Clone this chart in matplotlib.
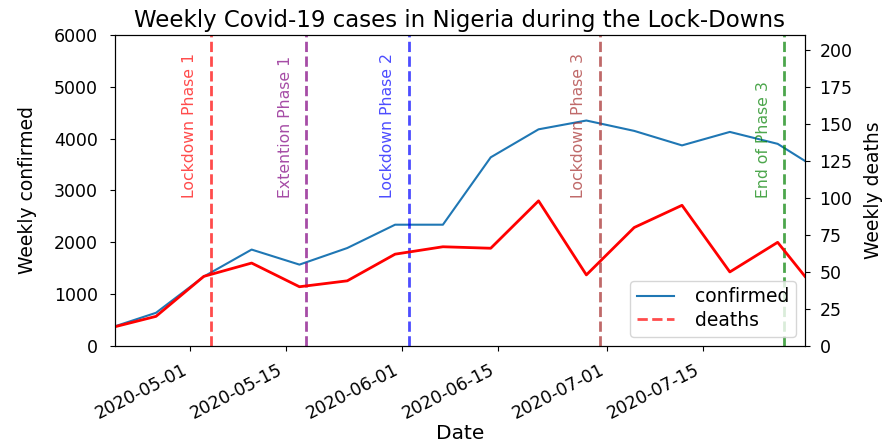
import matplotlib
matplotlib.use("Agg")
import matplotlib.pyplot as plt
import matplotlib.dates as mdates
import pandas as pd

# weekly totals (week ending dates)
weeks = ["2020-04-20", "2020-04-26", "2020-05-03", "2020-05-10", "2020-05-17",
         "2020-05-24", "2020-05-31", "2020-06-07", "2020-06-14", "2020-06-21",
         "2020-06-28", "2020-07-05", "2020-07-12", "2020-07-19", "2020-07-26",
         "2020-07-30"]
confirmed = [380, 640, 1340, 1860, 1570, 1890, 2340, 2340, 3640, 4180,
             4350, 4150, 3870, 4130, 3900, 3570]
deaths = [13, 20, 47, 56, 40, 44, 62, 67, 66, 98, 48, 80, 95, 50, 70, 47]

# lockdown milestones
phases = ["Lockdown Phase 1", "Extention Phase 1", "Lockdown Phase 2",
          "Lockdown Phase 3", "End of Phase 3"]
phase_dates = ["2020-05-04", "2020-05-18", "2020-06-02", "2020-06-30", "2020-07-27"]
phase_colors = ["red", "purple", "blue", "brown", "green"]

dates = pd.to_datetime(weeks)

fig, ax1 = plt.subplots(figsize=(8.88, 4.43), dpi=100)
fig.subplots_adjust(left=0.1295, right=0.9065, bottom=0.219, top=0.921)

l1, = ax1.plot(dates, confirmed, color="tab:blue", lw=1.5)

vlines = []
for name, d, c in zip(phases, phase_dates, phase_colors):
    d = pd.Timestamp(d)
    v = ax1.axvline(d, color=c, ls="--", lw=2, alpha=0.7)
    vlines.append(v)
    ax1.text(d - pd.Timedelta(days=2), 2850, name, rotation=90, color=c,
             alpha=0.7, ha="right", va="bottom", fontsize=11.3)

ax1.set_ylim(0, 6000)
ax1.set_xlim(dates[0], dates[-1])
ax1.set_ylabel("Weekly confirmed", fontsize=13.5)
ax1.set_xlabel("Date", fontsize=14.5)
ax1.yaxis.set_label_coords(-0.113, 0.5)
ax1.xaxis.set_label_coords(0.5, -0.25)
ax1.set_title("Weekly Covid-19 cases in Nigeria during the Lock-Downs", fontsize=16.5)

ax1.xaxis.set_major_locator(mdates.DayLocator(bymonthday=[1, 15]))
ax1.xaxis.set_major_formatter(mdates.DateFormatter("%Y-%m-%d"))
ax1.tick_params(axis="y", labelsize=12.5, pad=9)
ax1.tick_params(axis="x", labelsize=12.5, pad=7)
for lab in ax1.get_xticklabels():
    lab.set_rotation(27)
    lab.set_ha("right")

ax2 = ax1.twinx()
ax2.plot(dates, deaths, color="red", lw=2)
ax2.set_ylim(0, 210)
ax2.set_yticks(range(0, 201, 25))
ax2.set_ylabel("Weekly deaths", fontsize=13.5)
ax2.yaxis.set_label_coords(1.0855, 0.5)
ax2.tick_params(axis="y", labelsize=12.5, pad=7)

ax2.legend([l1, vlines[0]], ["confirmed", "deaths"], loc="lower right",
           fontsize=13.5, labelspacing=0.25, handletextpad=1.1, borderpad=0.35)

plt.savefig("out.png", dpi=100)
